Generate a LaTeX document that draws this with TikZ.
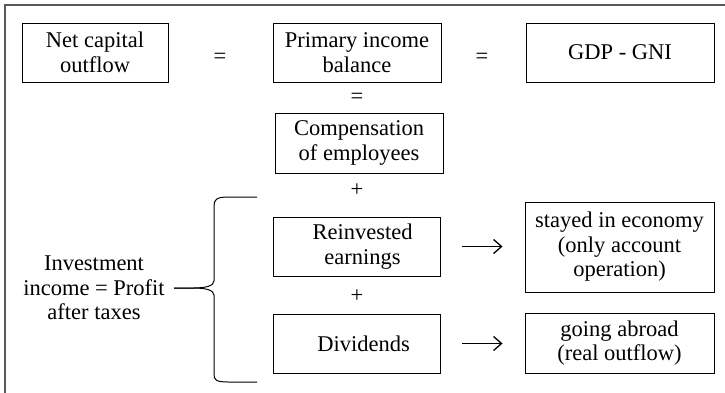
\documentclass[tikz,border=0pt]{standalone}
\usepackage{fontspec}
\setmainfont{Liberation Serif}
\usetikzlibrary{arrows.meta}

\begin{document}
\begin{tikzpicture}[x=1pt,y=-1pt,
  font=\rmfamily\fontsize{22.5}{24.5}\selectfont,
  box/.style={draw,line width=0.9pt,align=center,inner sep=0pt},
  sign/.style={inner sep=0pt},
  flow/.style={line width=1.3pt,-{Straight Barb[length=8pt,width=14pt,line width=1.3pt]}}]
\useasboundingbox (0,0) rectangle (725,393);
% Frame
\draw[black!65,line width=1.6pt] (725,5) -- (5,5) -- (5,393);
% Top row
\node[box,minimum width=146pt,minimum height=59pt] (netcap) at (95,52.5) {Net capital\\outflow};
\node[box,minimum width=168pt,minimum height=59pt] (primary) at (357,52.5) {Primary income\\balance};
\node[box,minimum width=188pt,minimum height=59pt] (gdp) at (620,52.5) {GDP - GNI};
\node[sign] (eqa) at (220,58) {=};
\node[sign] (eqb) at (482,58) {=};
% Middle column
\node[sign] (eqc) at (357,98) {=};
\node[box,minimum width=168pt,minimum height=60pt] (comp) at (359,143) {Compensation\\of employees};
\node[sign] (plusa) at (357,190) {+};
\node[box,minimum width=167pt,minimum height=59pt] (reinv) at (356.5,246.5) {\hspace*{12pt}Reinvested\\\hspace*{12pt}earnings};
\node[sign] (plusb) at (357,296) {+};
\node[box,minimum width=167pt,minimum height=59pt] (divid) at (356.5,343.5) {\hspace*{14pt}Dividends};
% Right column
\node[box,minimum width=189pt,minimum height=90pt] (stayed) at (619.5,247) {stayed in economy\\(only account\\operation)};
\node[box,minimum width=189pt,minimum height=60pt] (abroad) at (619.5,343) {going abroad\\(real outflow)};
\draw[flow,shorten <=22pt,shorten >=22pt] (reinv.east) -- (reinv.east -| stayed.west);
\draw[flow,shorten <=22pt,shorten >=22pt] (divid.east) -- (divid.east -| abroad.west);
% Brace
\node[align=center,inner sep=0pt] (invest) at (94,288) {Investment\\income = Profit\\after taxes};
\coordinate (tip) at (174,288);
\draw[line width=1pt] (257,197) -- (228,197) .. controls (216,197) and (214,200) .. (214,206)
  -- (214,281) .. controls (214,286) and (205,288) .. (194,288) -- (tip);
\draw[line width=1pt] (tip) -- (194,288) .. controls (205,288) and (214,290) .. (214,295)
  -- (214,374) .. controls (214,380) and (216,382) .. (228,382) -- (257,382);
\end{tikzpicture}
\end{document}
